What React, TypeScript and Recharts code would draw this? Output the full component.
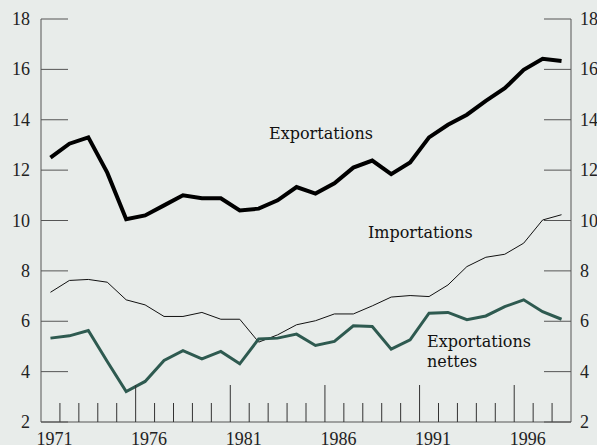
import { LineChart, Line, XAxis, YAxis } from "recharts"

const years = [
  1971, 1972, 1973, 1974, 1975, 1976, 1977, 1978, 1979, 1980, 1981, 1982, 1983, 1984,
  1985, 1986, 1987, 1988, 1989, 1990, 1991, 1992, 1993, 1994, 1995, 1996, 1997, 1998,
]
const exportations = [
  12.5, 13.05, 13.3, 11.9, 10.05, 10.2, 10.6, 11.0, 10.88, 10.88, 10.4, 10.47, 10.8, 11.33,
  11.07, 11.48, 12.1, 12.38, 11.84, 12.3, 13.3, 13.8, 14.2, 14.75, 15.25, 15.98, 16.42, 16.33,
]
const importations = [
  7.15, 7.62, 7.66, 7.55, 6.85, 6.65, 6.19, 6.19, 6.35, 6.08, 6.08, 5.17, 5.46, 5.86,
  6.02, 6.29, 6.29, 6.61, 6.96, 7.02, 6.98, 7.44, 8.17, 8.54, 8.66, 9.1, 10.02, 10.23,
]
const nettes = [
  5.33, 5.42, 5.63, 4.4, 3.21, 3.61, 4.44, 4.83, 4.51, 4.8, 4.31, 5.3, 5.33, 5.49,
  5.04, 5.2, 5.82, 5.79, 4.89, 5.26, 6.32, 6.35, 6.06, 6.21, 6.58, 6.85, 6.38, 6.08,
]
const yTicks = [2, 4, 6, 8, 10, 12, 14, 16, 18]
const yearLabels = [1971, 1976, 1981, 1986, 1991, 1996]
const longTicks = [1975.5, 1980.5, 1985.5, 1990.5, 1995.5]
const boundaries = years.slice(0, -1).map((y) => y + 0.5)

const data = years.map((year, i) => ({
  year,
  exportations: exportations[i],
  importations: importations[i],
  nettes: nettes[i],
}))

const BG = "#e8ecea"
const AXIS = "#555"
const TICK_FONT = "'Liberation Serif', serif"
const LABEL_FONT = "'DejaVu Serif', serif"

const XTick = (props: any) => {
  const { x, y, payload } = props
  const v = payload.value
  if (yearLabels.includes(v)) {
    return (
      <text x={x} y={y} dx={4} dy={23} textAnchor="middle" fontFamily={TICK_FONT} fontSize={18} fill="#222">
        {v}
      </text>
    )
  }
  const len = longTicks.includes(v) ? 37 : 19
  return <line x1={x} x2={x} y1={y} y2={y - len} stroke="#333" strokeWidth={1} />
}

const LeftTick = (props: any) => {
  const { x, y, payload } = props
  return (
    <g>
      <line x1={x} x2={x + 27} y1={y} y2={y} stroke={AXIS} strokeWidth={1} />
      <text x={x - 11} y={y} dy={6} textAnchor="end" fontFamily={TICK_FONT} fontSize={18} fill="#222">
        {payload.value}
      </text>
    </g>
  )
}

const RightTick = (props: any) => {
  const { x, y, payload } = props
  return (
    <g>
      <line x1={x - 27} x2={x} y1={y} y2={y} stroke={AXIS} strokeWidth={1} />
      <text x={x + 9} y={y} dy={6} textAnchor="start" fontFamily={TICK_FONT} fontSize={18} fill="#222">
        {payload.value}
      </text>
    </g>
  )
}

export default function App() {
  return (
    <div style={{ position: "absolute", left: 0, top: 0, width: 597, height: 445, background: BG, overflow: "hidden" }}>
      <LineChart width={597} height={445} data={data} margin={{ top: 19, right: 25, bottom: 0, left: 40 }}>
        <XAxis
          dataKey="year"
          type="number"
          domain={[1970.5, 1998.5]}
          ticks={[...yearLabels, ...boundaries].sort((a, b) => a - b)}
          interval={0}
          height={23}
          tickLine={false}
          tickSize={0}
          tickMargin={0}
          axisLine={{ stroke: AXIS }}
          tick={<XTick />}
        />
        <YAxis
          yAxisId="left"
          type="number"
          domain={[2, 18]}
          ticks={yTicks}
          interval={0}
          width={1}
          tickLine={false}
          tickSize={0}
          tickMargin={0}
          axisLine={{ stroke: AXIS }}
          tick={<LeftTick />}
        />
        <YAxis
          yAxisId="right"
          orientation="right"
          type="number"
          domain={[2, 18]}
          ticks={yTicks}
          interval={0}
          width={1}
          tickLine={false}
          tickSize={0}
          tickMargin={0}
          axisLine={{ stroke: AXIS }}
          tick={<RightTick />}
        />
        <Line yAxisId="left" dataKey="importations" stroke="#111" strokeWidth={1} dot={false} type="linear" isAnimationActive={false} />
        <Line yAxisId="right" dataKey="nettes" stroke="#2e5a50" strokeWidth={3} dot={false} type="linear" isAnimationActive={false} />
        <Line yAxisId="left" dataKey="exportations" stroke="#000" strokeWidth={4} dot={false} type="linear" isAnimationActive={false} />
        <text x={269} y={139} fontFamily={LABEL_FONT} fontSize={16} fill="#111">Exportations</text>
        <text x={368} y={238} fontFamily={LABEL_FONT} fontSize={16} fill="#111">Importations</text>
        <text x={427} y={347} fontFamily={LABEL_FONT} fontSize={16} fill="#111">Exportations</text>
        <text x={427} y={367} fontFamily={LABEL_FONT} fontSize={16} fill="#111">nettes</text>
      </LineChart>
    </div>
  )
}
